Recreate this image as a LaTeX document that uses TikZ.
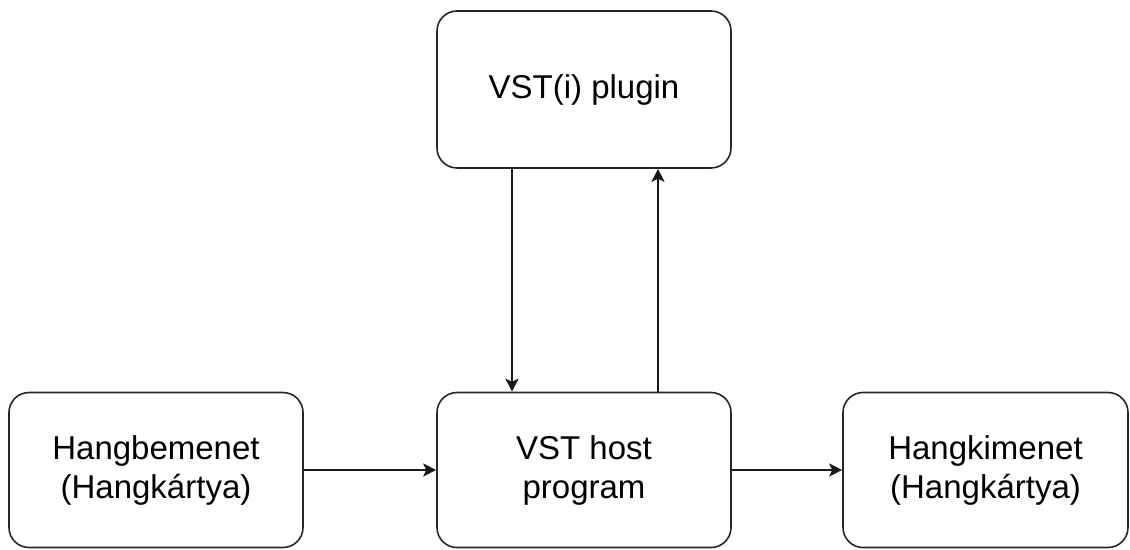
\documentclass[tikz,border=0pt]{standalone}
\usepackage{fontspec}
\setmainfont{Liberation Sans}
\usetikzlibrary{arrows.meta}
\begin{document}
\begin{tikzpicture}[x=1pt,y=1pt,
  block/.style={draw=black!85, line width=1.6pt, rounded corners=20pt,
    minimum width=294pt, minimum height=155pt, align=center,
    inner sep=0pt, font=\fontsize{33}{39}\selectfont},
  flow/.style={draw=black!90, line width=1.5pt,
    -{Stealth[length=13pt,width=13pt,inset=3pt]}}]
  \useasboundingbox (0,0) rectangle (1130,549);
  \node[block, minimum height=157pt] (plugin) at (584,459.5) {VST(i) plugin};
  \node[block] (in)   at (156,79)   {Hangbemenet\\(Hangkártya)};
  \node[block] (host) at (584,79)   {VST host\\program};
  \node[block, minimum width=285pt] (out) at (985.5,79) {Hangkimenet\\(Hangkártya)};
  \draw[flow] (in.east) -- (host.west);
  \draw[flow] (host.east) -- (out.west);
  \draw[flow] ([xshift=-72pt]plugin.south) -- ([xshift=-72pt]host.north);
  \draw[flow] ([xshift=74pt]host.north) -- ([xshift=74pt]plugin.south);
\end{tikzpicture}
\end{document}
